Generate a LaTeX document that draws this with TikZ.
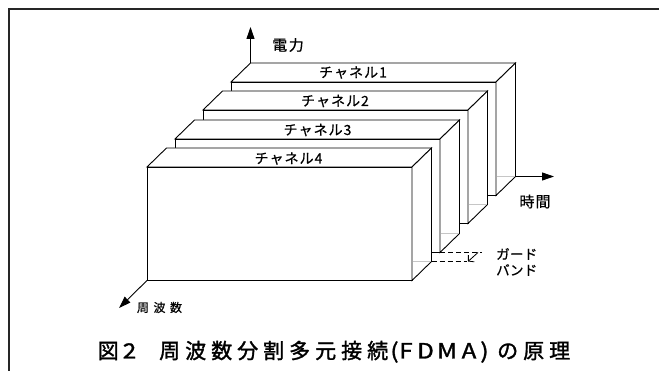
\documentclass[tikz,border=0pt]{standalone}
\usepackage{fontspec}
\newfontfamily\jp[FakeBold=0.6]{Noto Sans CJK JP}
\newfontfamily\jpt[FakeBold=1.5]{Noto Sans CJK JP}
\newfontfamily\jplat[FakeStretch=1.15,FakeBold=1.5]{Noto Sans CJK JP}
\usetikzlibrary{arrows.meta}
\makeatletter
\newcommand\lsp[2]{\def\lsp@k{#1}\lsp@loop#2\relax}
\def\lsp@loop#1{\ifx\relax#1\else#1\expandafter\lsp@next\fi}
\def\lsp@next{\@ifnextchar\relax{\lsp@loop}{\kern\lsp@k\lsp@loop}}
\makeatother
\begin{document}
\begin{tikzpicture}[x=1pt,y=-1pt,
  face/.style={line width=0.9pt, draw=black, fill=white, line join=miter},
  hidden/.style={line width=0.8pt, gray!45, shorten <=0.5pt, shorten >=0.5pt},
  axis/.style={line width=0.9pt, -{Triangle[length=12pt,width=8pt]}},
  guard/.style={line width=0.8pt, dash pattern=on 5pt off 3pt},
  gbarrow/.style={line width=0.8pt, -{Straight Barb[length=4pt,width=9pt]}},
  frame/.style={line width=1.4pt, black!85, line join=miter},
  chl/.style={font=\jp\fontsize{14pt}{16pt}\selectfont, inner sep=0pt},
  axl/.style={font=\jp\fontsize{15pt}{17pt}\selectfont, inner sep=0pt},
  frl/.style={font=\jp\fontsize{12pt}{14pt}\selectfont, inner sep=0pt},
  gbl/.style={font=\jp\fontsize{13.5pt}{16pt}\selectfont, inner sep=0pt, align=left},
  ttl/.style={font=\jpt\fontsize{21pt}{24pt}\selectfont, inner sep=0pt, anchor=base west},
  ttlat/.style={font=\jplat\fontsize{21pt}{24pt}\selectfont, inner sep=0pt, anchor=base}]
\useasboundingbox (0,0) rectangle (659,371);
\fill[white] (0,0) rectangle (659,371);

% frame
\coordinate (frA) at (9,371);
\coordinate (frB) at (9,9);
\coordinate (frC) at (659,9);
\draw[frame] (frA) -- (frB) -- (frC);

% channel boxes, back to front
\foreach \n/\X/\Y in {1/231/82,2/203/110,3/175/139,4/147/167}{
  \coordinate (ftl\n) at (\X,\Y);
  \coordinate (ftr\n) at (\X+265,\Y);
  \coordinate (fbr\n) at (\X+265,\Y+113.5);
  \coordinate (fbl\n) at (\X,\Y+113.5);
  \coordinate (btl\n) at (\X+19.5,\Y-19);
  \coordinate (btr\n) at (\X+284.5,\Y-19);
  \coordinate (bbr\n) at (\X+284.5,\Y+94.5);
  \coordinate (hbr\n) at (\X+265,\Y+94.5);
  \draw[face] (ftl\n) rectangle (fbr\n);
  \draw[face] (ftl\n) -- (btl\n) -- (btr\n) -- (ftr\n) -- cycle;
  \draw[face] (ftr\n) -- (btr\n) -- (bbr\n) -- (fbr\n) -- cycle;
  \draw[hidden] (hbr\n) -- (bbr\n);
}

% channel labels
\node[chl] (c1) at (353,72.5) {\lsp{1pt}{チャネル1}};
\node[chl] (c2) at (335,101) {\lsp{1pt}{チャネル2}};
\node[chl] (c3) at (317.5,130) {\lsp{1pt}{チャネル3}};
\node[chl] (c4) at (288.5,158.5) {\lsp{1pt}{チャネル4}};

% axes
\coordinate (pwtip) at (250.5,27);
\draw[axis] (btl1) -- (pwtip);
\node[axl] (pw) at (288,45) {\lsp{1.5pt}{電力}};
\coordinate (tmtip) at (554,176.5);
\draw[axis] (bbr1) -- (tmtip);
\node[axl] (tm) at (535,201.5) {\lsp{1pt}{時間}};
\coordinate (frtip) at (119,308);
\draw[axis] (fbl4) -- (frtip);
\node[frl] (fr) at (159.5,307.5) {\lsp{4.5pt}{周波数}};

% guard band
\coordinate (gu) at (482,252.5);
\coordinate (gl) at (467,261.5);
\draw[guard] (fbr3) -- (gu);
\draw[guard] (bbr4) -- (gl);
\coordinate (ga) at (478,252.5);
\coordinate (gb) at (468,261.5);
\draw[gbarrow] (ga) -- (gb);
\node[gbl, anchor=west] (gbt) at (496,262) {\lsp{0.3pt}{ガード}\\\lsp{0.3pt}{バンド}};

% title
\node[ttl] (tA) at (97.5,358.5) {図};
\node[ttlat] (tB) at (129.5,358.5) {2};
\node[ttl] (tC) at (159,358.5) {\lsp{5pt}{周波数分割多元接続}};
\node[ttlat] (tD) at (394.5,358.5) {(};
\node[ttlat] (tE) at (406,358.5) {F};
\node[ttlat] (tF) at (425.5,358.5) {D};
\node[ttlat] (tG) at (447,358.5) {M};
\node[ttlat] (tH) at (469,358.5) {A};
\node[ttlat] (tI) at (484.5,358.5) {)};
\node[ttl] (tJ) at (497,358.5) {\lsp{5pt}{の原理}};
\end{tikzpicture}
\end{document}
